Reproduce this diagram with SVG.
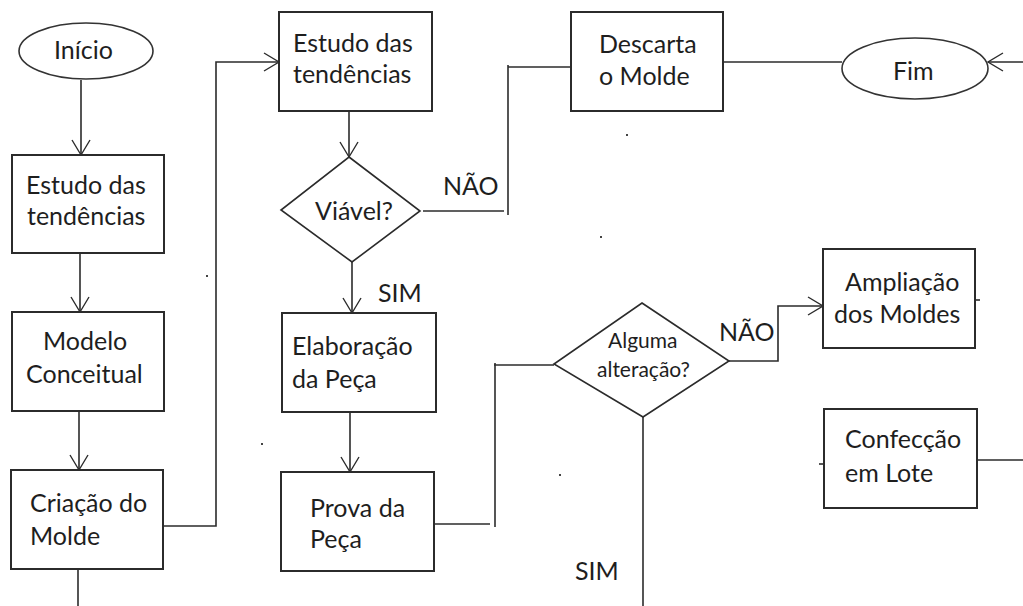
<svg xmlns="http://www.w3.org/2000/svg" width="1023" height="606" viewBox="0 0 1023 606">
<style>
.bg{fill:#ffffff}
.box{fill:#ffffff;stroke:#2b2b2b;stroke-width:2}
.term{fill:#ffffff;stroke:#333333;stroke-width:1.6}
.dec{fill:#ffffff;stroke:#2b2b2b;stroke-width:1.6}
.ln{fill:none;stroke:#2b2b2b;stroke-width:1.6}
.t{font-family:Lato,"Open Sans","Liberation Sans",sans-serif;font-size:25px;fill:#1e1e1e}
.s{font-size:21px}
.dot{fill:#444}
</style>
<defs>
<marker id="arr" markerUnits="userSpaceOnUse" markerWidth="20" markerHeight="20" viewBox="-16 -10 20 20" refX="0" refY="0" orient="auto">
<path d="M-15,-9 L0,0 L-15,9" fill="none" stroke="#2b2b2b" stroke-width="1.4"/>
</marker>
</defs>
<rect class="bg" x="0" y="0" width="1023" height="606"/>

<g id="connectors">
<line class="ln" x1="81" y1="80" x2="81" y2="155" marker-end="url(#arr)"/>
<line class="ln" x1="80" y1="253" x2="80" y2="312" marker-end="url(#arr)"/>
<line class="ln" x1="79" y1="411" x2="79" y2="470" marker-end="url(#arr)"/>
<line class="ln" x1="78" y1="569" x2="78" y2="606"/>
<polyline class="ln" points="163,526 216,526 216,62 279,62" marker-end="url(#arr)"/>
<line class="ln" x1="349" y1="111" x2="349" y2="157" marker-end="url(#arr)"/>
<polyline class="ln" points="423,211 504,211"/>
<polyline class="ln" points="508,215 508,65"/>
<polyline class="ln" points="508,67 571,67"/>
<line class="ln" x1="723" y1="62" x2="842" y2="62"/>
<line class="ln" x1="1023" y1="62" x2="988" y2="62" marker-end="url(#arr)"/>
<line class="ln" x1="352" y1="262" x2="352" y2="313" marker-end="url(#arr)"/>
<line class="ln" x1="350" y1="412" x2="350" y2="472" marker-end="url(#arr)"/>
<polyline class="ln" points="434,524 490,524"/>
<polyline class="ln" points="495,527 495,363"/>
<polyline class="ln" points="494,365 554,365"/>
<polyline class="ln" points="729,361 778,361 778,306 823,306" marker-end="url(#arr)"/>
<line class="ln" x1="643" y1="417" x2="643" y2="606"/>
<line class="ln" x1="977" y1="460" x2="1023" y2="460"/>
<line class="ln" x1="975" y1="300" x2="980" y2="300"/>
<line class="ln" x1="819" y1="464" x2="824" y2="464"/>
</g>

<g id="n-inicio">
<ellipse class="term" cx="86" cy="51" rx="67" ry="28"/>
<text class="t" x="54" y="59">Início</text>
</g>
<g id="n-estudo1">
<rect class="box" x="12" y="155" width="152" height="98"/>
<text class="t" x="26" y="194">Estudo das</text>
<text class="t" x="27" y="225">tendências</text>
</g>
<g id="n-modelo">
<rect class="box" x="12" y="312" width="152" height="99"/>
<text class="t" x="43" y="350">Modelo</text>
<text class="t" x="26" y="383">Conceitual</text>
</g>
<g id="n-criacao">
<rect class="box" x="11" y="470" width="152" height="99"/>
<text class="t" x="30" y="512">Criação do</text>
<text class="t" x="30" y="545">Molde</text>
</g>
<g id="n-estudo2">
<rect class="box" x="279" y="12" width="153" height="99"/>
<text class="t" x="293" y="52">Estudo das</text>
<text class="t" x="293" y="83">tendências</text>
</g>
<g id="n-viavel">
<polygon class="dec" points="349,157 420,211 352,262 281,210"/>
<text class="t" x="315" y="220">Viável?</text>
</g>
<g id="n-descarta">
<rect class="box" x="571" y="12" width="152" height="99"/>
<text class="t" x="599" y="53">Descarta</text>
<text class="t" x="599" y="85">o Molde</text>
</g>
<g id="n-fim">
<ellipse class="term" cx="915" cy="68.5" rx="73" ry="30.5"/>
<text class="t" x="893" y="80">Fim</text>
</g>
<g id="n-elaboracao">
<rect class="box" x="282" y="313" width="154" height="99"/>
<text class="t" x="292" y="355">Elaboração</text>
<text class="t" x="292" y="388">da Peça</text>
</g>
<g id="n-prova">
<rect class="box" x="281" y="472" width="153" height="99"/>
<text class="t" x="310" y="517">Prova da</text>
<text class="t" x="310" y="548">Peça</text>
</g>
<g id="n-alguma">
<polygon class="dec" points="642,303 729,361 643,417 554,364"/>
<text class="t s" x="608" y="348">Alguma</text>
<text class="t s" x="597" y="377">alteração?</text>
</g>
<g id="n-ampliacao">
<rect class="box" x="823" y="249" width="152" height="99"/>
<text class="t" x="845" y="291">Ampliação</text>
<text class="t" x="834" y="323">dos Moldes</text>
</g>
<g id="n-confeccao">
<rect class="box" x="824" y="409" width="153" height="99"/>
<text class="t" x="845" y="448">Confecção</text>
<text class="t" x="845" y="482">em Lote</text>
</g>
<g id="labels">
<text class="t" x="443" y="195">NÃO</text>
<text class="t" x="378" y="302">SIM</text>
<text class="t" x="719" y="341">NÃO</text>
<text class="t" x="575" y="580">SIM</text>
</g>
<g id="specks">
<rect class="dot" x="206" y="275" width="2" height="2"/>
<rect class="dot" x="261" y="443" width="2" height="2"/>
<rect class="dot" x="626" y="134" width="2" height="2"/>
<rect class="dot" x="600" y="236" width="2" height="2"/>
<rect class="dot" x="559" y="474" width="2" height="2"/>
</g>
</svg>
